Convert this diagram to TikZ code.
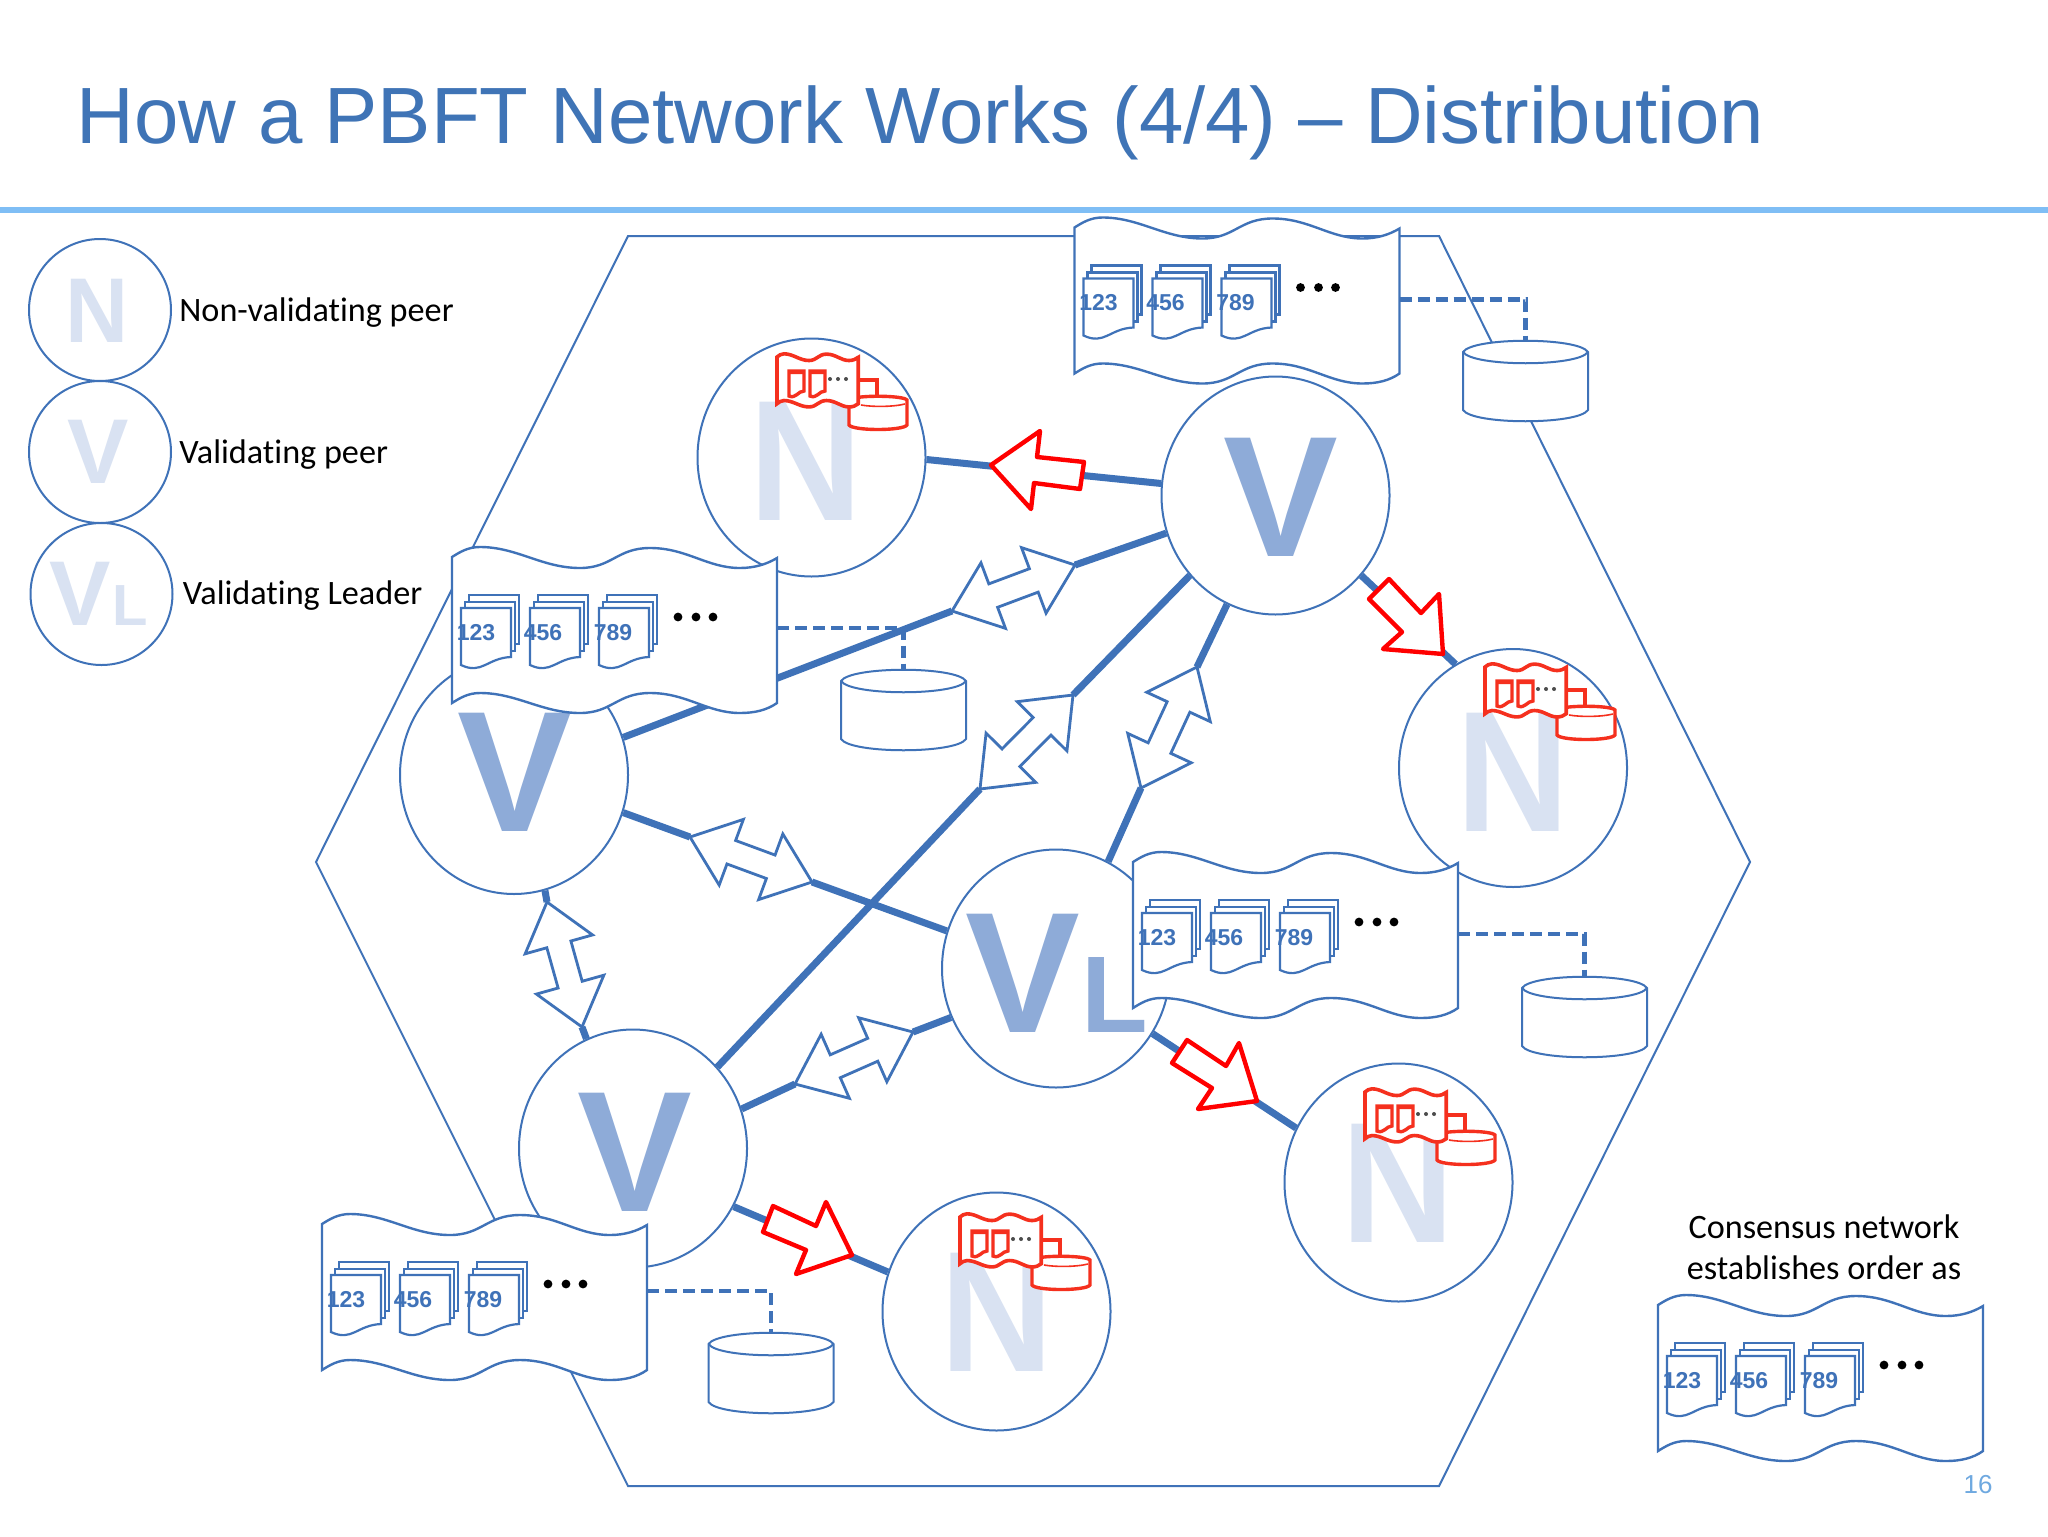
\documentclass[tikz,border=0pt]{standalone}
\usepackage{fontspec}
\setmainfont{Liberation Sans}
\newfontfamily\calib[Ligatures=NoCommon]{Carlito}
\usetikzlibrary{calc,shapes.geometric}
\definecolor{blu}{HTML}{3F72B8}
\definecolor{ttl}{HTML}{3F74B6}
\definecolor{rulec}{HTML}{7FBEF5}
\definecolor{vcol}{HTML}{8EABD8}
\definecolor{ncol}{HTML}{D9E2F2}
\definecolor{pnum}{HTML}{6FA9E0}
\definecolor{minired}{HTML}{F5301E}
\tikzset{
  peer/.style={ellipse,draw=blu,fill=white,line width=1pt,inner sep=0pt,minimum width=114pt,minimum height=119pt},
  legendpeer/.style={circle,draw=blu,fill=white,line width=1pt,inner sep=0pt,minimum size=71pt},
  link/.style={draw=blu,line width=3.5pt},
  hollow/.style={draw=blu,fill=white,line width=1.4pt,line join=miter,miter limit=3},
  redarrow/.style={draw=red,fill=white,line width=2.2pt,line join=round},
  ldoc/.style={draw=blu,fill=white,line width=1.2pt},
  sheet/.style={draw=blu,fill=white,line width=1.1pt},
  dashlink/.style={draw=blu,line width=2.2pt,dash pattern=on 6pt off 3pt},
  store/.style={draw=blu,fill=white,line width=1pt},
  bigv/.style={anchor=base,inner sep=0pt,text=vcol,font=\bfseries\fontsize{86}{86}\selectfont},
  bign/.style={anchor=base,inner sep=0pt,text=ncol,font=\bfseries\fontsize{86}{86}\selectfont},
  bigl/.style={anchor=base,inner sep=0pt,text=vcol,font=\bfseries\fontsize{54.5}{54.5}\selectfont},
  lega/.style={anchor=base,inner sep=0pt,text=ncol,font=\bfseries\fontsize{46}{46}\selectfont},
  legb/.style={anchor=base,inner sep=0pt,text=ncol,font=\bfseries\fontsize{29}{29}\selectfont},
  lab/.style={anchor=base west,inner sep=0pt,text=black,font=\calib\fontsize{17.1}{20}\selectfont},
  nums/.style={anchor=base,inner sep=0pt,text=blu,font=\bfseries\fontsize{11.5}{11.5}\selectfont},
}
\newcommand{\wavepath}{(0,0) .. controls (8,-5) and (16,-10) .. (28,-10) .. controls (65,-10) and (90,11) .. (128,11) .. controls (160,11) and (165,-9) .. (198,-9) .. controls (235,-9) and (255,11) .. (288,11) .. controls (303,11) and (315,7) .. (325,1) -- (325,146) .. controls (315,153) and (303,156) .. (288,156) .. controls (255,156) and (235,136) .. (198,136) .. controls (165,136) and (160,156) .. (128,156) .. controls (90,156) and (65,136) .. (28,136) .. controls (16,136) and (8,141) .. (0,146) -- cycle}
\newcommand{\fpage}[1]{%
  \path[sheet] (#1+17,38) -- (#1+67,38) -- (#1+67,87) -- (#1+17,87) -- cycle;
  \path[sheet] (#1+13,45) -- (#1+63,45) -- (#1+63,94) -- (#1+13,94) -- cycle;
  \path[sheet] (#1+9,51) -- (#1+59,51) -- (#1+59,100) .. controls (#1+35,101) and (#1+30,118) .. (#1+9,108) -- cycle;}
\newcommand{\ledger}[3]{%
  \begin{scope}[shift={(#2,#3)}]
    \path[ldoc] \wavepath;
    \fpage{0}\fpage{69}\fpage{138}
    \node[nums] (#1-a) at (24,83) {123};
    \node[nums] (#1-b) at (91,83) {456};
    \node[nums] (#1-c) at (161,83) {789};
    \fill[black] (226,60) circle (2.2pt) (244,60) circle (2.2pt) (261,60) circle (2.2pt);
    \coordinate (#1-r) at (325,71);
  \end{scope}}
\newcommand{\store}[3]{%
  \path[store] (#2,#3+11) -- (#2,#3+69) .. controls (#2+10,#3+84) and (#2+115,#3+84) .. (#2+125,#3+69) -- (#2+125,#3+11) .. controls (#2+115,#3-4) and (#2+10,#3-4) .. (#2,#3+11) -- cycle;
  \path[store] (#2,#3+11) .. controls (#2+10,#3+26) and (#2+115,#3+26) .. (#2+125,#3+11);
  \coordinate (#1) at (#2+62.5,#3);}
\newcommand{\mini}[2]{%
  \begin{scope}[shift={(#1,#2)}]
    \draw[minired,line width=2pt] (81,23) -- (100,23) -- (100,38);
    \path[draw=minired,fill=white,line width=1.7pt] (72,43) -- (72,68) .. controls (76,74) and (126,74) .. (130,68) -- (130,43) .. controls (126,38) and (76,38) .. (72,43) -- cycle;
    \path[draw=minired,line width=.8pt] (84,48) .. controls (95,50) and (116,50) .. (128,47);
    \begin{scope}[xscale=.25,yscale=.32]
      \path[draw=minired,fill=white,line width=1.8pt] \wavepath;
    \end{scope}
    \path[draw=minired,line width=1.7pt] (12,14) -- (27,14) -- (27,34) .. controls (21,34) and (19,42) .. (12,39) -- cycle;
    \path[draw=minired,line width=1.7pt] (33,14) -- (48,14) -- (48,34) .. controls (42,34) and (40,42) .. (33,39) -- cycle;
    \fill[minired] (12,13) rectangle (27,17) (33,13) rectangle (48,17);
    \fill[black!70] (53,22) circle (1pt) (61,22) circle (1pt) (69,22) circle (1pt);
  \end{scope}}
\newcommand{\dblarrow}[2]{%
  \path[hollow] (#1) -- ($(#1)!22pt!(#2)!17.5pt!90:(#2)$) -- ($(#1)!22pt!(#2)!6.25pt!90:(#2)$) -- ($(#2)!22pt!(#1)!6.25pt!-90:(#1)$) -- ($(#2)!22pt!(#1)!17.5pt!-90:(#1)$) -- (#2) -- ($(#2)!22pt!(#1)!17.5pt!90:(#1)$) -- ($(#2)!22pt!(#1)!6.25pt!90:(#1)$) -- ($(#1)!22pt!(#2)!6.25pt!-90:(#2)$) -- ($(#1)!22pt!(#2)!17.5pt!-90:(#2)$) -- cycle;}
\newcommand{\narrowN}[1]{\scalebox{#1}[1]{N}}
\begin{document}
\begin{tikzpicture}[x=0.5pt,y=-0.5pt]
\useasboundingbox (0,0) rectangle (2048,1536);
\fill[white] (0,0) rectangle (2048,1536);
% title
\node[anchor=base west,inner sep=0pt,text=ttl,font=\fontsize{39.9}{41}\selectfont] (title) at (76,143) {How a PBFT Network Works (4/4) – Distribution};
\coordinate (rl) at (0,210); \coordinate (rr) at (2048,210);
\draw[rulec,line width=2.6pt] (rl) -- (rr);
% hexagon
\draw[blu,line width=1pt,line join=miter] (628,236) -- (1439,236) -- (1750,862) -- (1439,1486) -- (628,1486) -- (316,862) -- cycle;
% legend
\node[legendpeer] (ln) at (100,310) {};
\node[legendpeer] (lv) at (100,452) {};
\node[legendpeer] (ll) at (101.5,594) {};
\node[lega] (lnt) at (97,342) {\narrowN{.95}};
\node[lega] (lvt) at (98,483) {V};
\node[lega] (llt) at (80,625) {V};
\node[legb] (llu) at (130,625) {L};
\node[lab] (lab1) at (179,321) {Non-validating peer};
\node[lab] (lab2) at (179,463) {Validating peer};
\node[lab] (lab3) at (182.5,604) {Validating Leader};
% peers
\node[peer] (N1) at (811.5,457.5) {};
\node[peer] (Vt) at (1275.5,495.5) {};
\node[peer] (Vl) at (514,775) {};
\node[peer] (Nr) at (1513,768) {};
\node[peer] (VL) at (1056,968.5) {};
\node[peer] (Nb) at (1398.5,1182.5) {};
\node[peer] (Vb) at (633,1148.5) {};
\node[peer] (Nc) at (996.5,1311.5) {};
\node[bign] (N1t) at (806,520) {\narrowN{.91}};
\node[bign] (Nrt) at (1513,831) {\narrowN{.91}};
\node[bign] (Nbt) at (1398,1242) {\narrowN{.91}};
\node[bign] (Nct) at (997,1371) {\narrowN{.91}};
\node[bigv] (Vtt) at (1281,556) {V};
\node[bigv] (Vlt) at (515,831) {V};
\node[bigv] (Vbt) at (635,1211) {V};
\node[bigv] (VLt) at (1023,1032) {V};
\node[bigl] (VLu) at (1115,1032) {L};
\mini{777}{357}
\mini{1485}{667}
\mini{1365}{1092}
\mini{960}{1217}
% links with red arrows
\path[link] (Vt.174) -- (N1.-1.5);
\path[link] (Vt.-43) -- (Nr.119);
\path[link] (VL.-34) -- (Nb.152);
\path[link] (Vb.-30) -- (Nc.160);
\path[redarrow] (991,465) -- (1040,431) -- (1037,457) -- (1084,462) -- (1080,489) -- (1034,483) -- (1031,509) -- cycle;
\path[redarrow] (1443,654) -- (1439,594) -- (1421,613) -- (1389,579) -- (1369,599) -- (1402,632) -- (1383,649) -- cycle;
\path[redarrow] (1257,1101) -- (1239,1043) -- (1226,1066) -- (1187,1040) -- (1172,1063) -- (1212,1088) -- (1198,1109) -- cycle;
\path[redarrow] (852,1255) -- (826,1202) -- (816,1226) -- (773,1206) -- (763,1232) -- (806,1250) -- (796,1274) -- cycle;
% double-arrow links
\coordinate (a1) at (952,611); \coordinate (b1) at (1075,565);
\coordinate (a2) at (690,837); \coordinate (b2) at (812,882);
\coordinate (a3) at (980,789); \coordinate (b3) at (1073,695);
\coordinate (a4) at (1141,788); \coordinate (b4) at (1197,667);
\coordinate (a5) at (547,902); \coordinate (b5) at (582,1027);
\coordinate (a6) at (795,1084); \coordinate (b6) at (913,1032);
\path[link] (Vl.19) -- (a1) (b1) -- (Vt.-161);
\path[link] (Vl.-19) -- (a2) (b2) -- (VL.161);
\path[link] (Vb.44) -- (a3) (b3) -- (Vt.-137);
\path[link] (VL.64) -- (a4) (b4) -- (Vt.-114);
\path[link] (Vl.-75) -- (a5) (b5) -- (Vb.113);
\path[link] (Vb.20.5) -- (a6) (b6) -- (VL.205);
\dblarrow{a1}{b1}
\dblarrow{a2}{b2}
\dblarrow{a3}{b3}
\dblarrow{a4}{b4}
\dblarrow{a5}{b5}
\dblarrow{a6}{b6}
% ledgers and stores
\store{c1}{1463}{341}
\store{c2}{841}{670}
\store{c3}{1522}{977}
\store{c4}{708.5}{1333}
\ledger{d1}{1074.5}{227.5}
\ledger{d2}{452}{557}
\ledger{d3}{1133}{862}
\ledger{d4}{322}{1224}
\ledger{d5}{1658}{1305}
\path[dashlink] ($(d1-r)+(0,1)$) -| (c1);
\path[dashlink] (d2-r) -| (c2);
\path[dashlink] ($(d3-r)+(0,1)$) -| (c3);
\path[dashlink] ($(d4-r)+(0,-4)$) -| (c4);
\node[anchor=base,inner sep=0pt,align=center,text=black,font=\calib\fontsize{17.1}{20.5}\selectfont] (cons) at (1824,1279) {Consensus network\\establishes order as};
\node[anchor=base,inner sep=0pt,text=pnum,font=\fontsize{13}{13}\selectfont] (pg) at (1978,1493) {16};
\end{tikzpicture}
\end{document}
